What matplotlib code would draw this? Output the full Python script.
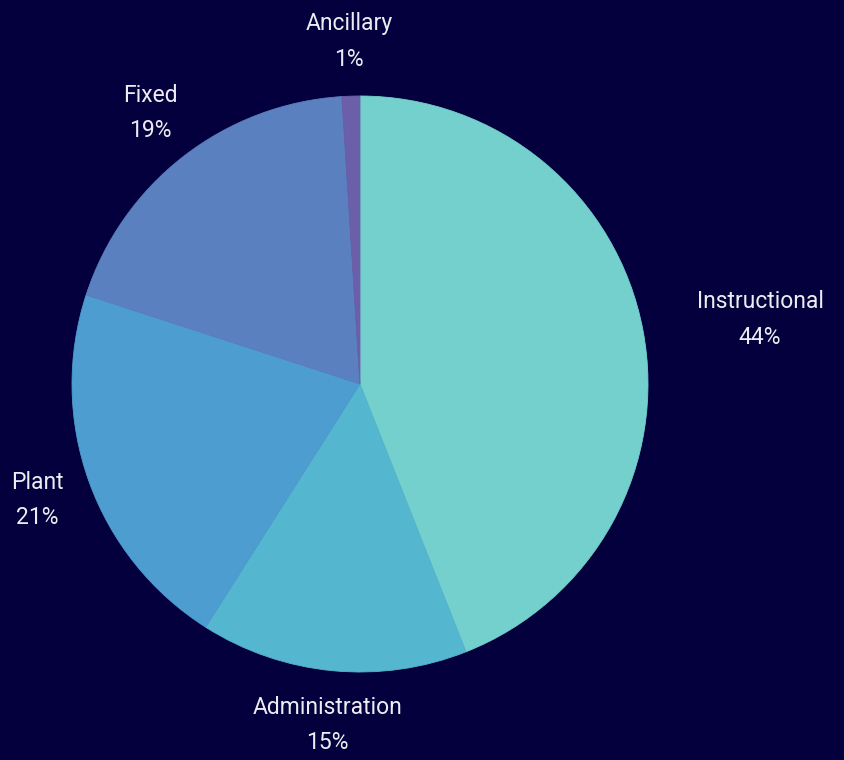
import matplotlib
matplotlib.use("Agg")
import matplotlib.pyplot as plt

plt.rcParams['font.family'] = ['Roboto', 'DejaVu Sans']

categories = ["Instructional", "Administration", "Plant", "Fixed", "Ancillary"]
values = [44, 15, 21, 19, 1]
colors = ["#74d0cd", "#55b6cf", "#4d9dd0", "#5a80c0", "#6a5fa8"]
bg = "#04003d"

fig = plt.figure(figsize=(8.44, 7.6), dpi=100, facecolor=bg)
ax = fig.add_axes([0, 0, 1, 1])
ax.set_facecolor(bg)

labels = [f"{c}\n{v}%" for c, v in zip(categories, values)]
wedges, texts = ax.pie(values, colors=colors, startangle=90, counterclock=False,
                       labels=labels, labeldistance=1.19, radius=1,
                       wedgeprops=dict(linewidth=0.6),
                       textprops=dict(color="#ececf2", fontsize=16.5,
                                      ha="center", va="center", linespacing=1.7))
for w, c in zip(wedges, colors):
    w.set_edgecolor(c)
for t in texts:
    t.set_ha("center")
    t.set_multialignment("center")
texts[0].set_ha("left")

# pie centre at (360, 384) px, radius 288 px, shifted a hair so labels sit like the original
ax.set_xlim(-360 / 288, (844 - 360) / 288)
ax.set_ylim(-(760 - 384) / 288, 384 / 288)
ax.set_aspect("auto")
ax.axis("off")

fig.savefig("out.png", dpi=100, facecolor=bg)
